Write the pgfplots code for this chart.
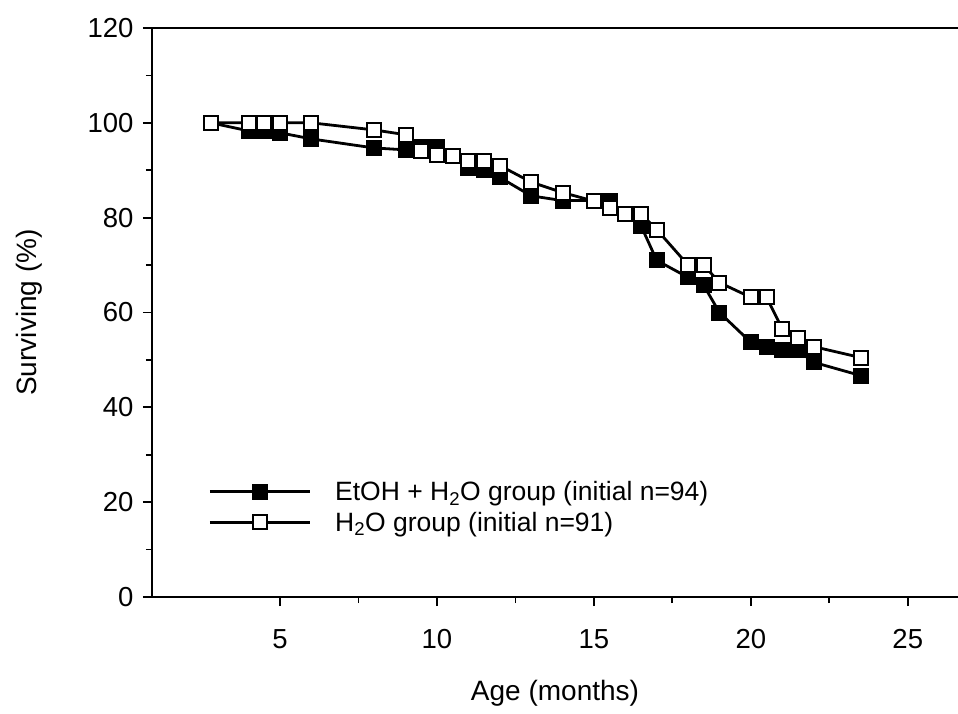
\documentclass[border=0pt]{standalone}
\usepackage{fontspec}
\setmainfont{Liberation Sans}
\usepackage{pgfplots}
\pgfplotsset{compat=1.18}
\begin{document}
\begin{tikzpicture}
\useasboundingbox (0,0) rectangle (958pt,713pt);
\begin{axis}[
  at={(152pt,116pt)}, anchor=south west,
  scale only axis, width=806pt, height=569pt,
  xmin=0.92, xmax=26.6, ymin=0, ymax=120,
  axis x line*=bottom, axis y line*=left,
  axis line style={line width=2.6pt},
  every tick/.style={line width=1.8pt, black},
  tick align=outside,
  major tick length=9pt, minor tick length=6pt,
  xtick={5,10,15,20,25}, minor x tick num=1,
  ytick={0,20,40,60,80,100,120}, minor y tick num=1,
  /pgf/number format/assume math mode=true,
  tick label style={font=\fontsize{27.5}{32}\selectfont},
  xticklabel style={yshift=-20pt},
  yticklabel style={xshift=-6pt},
  label style={font=\fontsize{28}{32}\selectfont},
  xlabel={Age (months)}, ylabel={Surviving (\%)},
  xlabel style={yshift=-24pt},
  ylabel style={yshift=38pt},
  extra description/.code={\draw[line width=2.6pt] (0,1) -- (1,1);},
  legend style={at={(0.066,0.2105)}, anchor=north west, draw=none, fill=none,
    font=\fontsize{26.5}{30}\selectfont, row sep=6pt, column sep=22pt,
    legend cell align=left},
  legend image code/.code={\draw[mark repeat=2,mark phase=2] plot coordinates {(0pt,0pt) (50pt,0pt) (100pt,0pt)};},
]
\addplot[black, line width=2.8pt, mark=square*, mark size=7pt, mark options={fill=black, line width=2pt}] coordinates {
(2.8,100) (4,98.3) (4.5,98.3) (5,97.9) (6,96.6) (8,94.7) (9,94.3) (9.5,95) (10,95) (10.5,93)
(11,90.5) (11.5,90) (12,88.5) (13,84.6) (14,83.6) (15,83.6) (15.5,83.6) (16,80.8) (16.5,78.3)
(17,71) (18,67.4) (18.5,65.7) (19,60) (20,53.7) (20.5,52.8) (21,52) (21.5,52) (22,49.5) (23.5,46.7)
};
\addlegendentry{EtOH + H\textsubscript{2}O group (initial n=94)}
\addplot[black, line width=2.8pt, mark=square*, mark size=7pt, mark options={fill=white, line width=2pt}] coordinates {
(2.8,100) (4,100) (4.5,100) (5,100) (6,100) (8,98.5) (9,97.5) (9.5,94) (10,93.3) (10.5,93)
(11,92) (11.5,92) (12,91) (13,87.5) (14,85.3) (15,83.5) (15.5,82) (16,80.8) (16.5,80.8)
(17,77.5) (18,70) (18.5,70) (19,66.3) (20,63.2) (20.5,63.2) (21,56.6) (21.5,54.7) (22,52.8) (23.5,50.5)
};
\addlegendentry{H\textsubscript{2}O group (initial n=91)}
\end{axis}
\end{tikzpicture}
\end{document}
